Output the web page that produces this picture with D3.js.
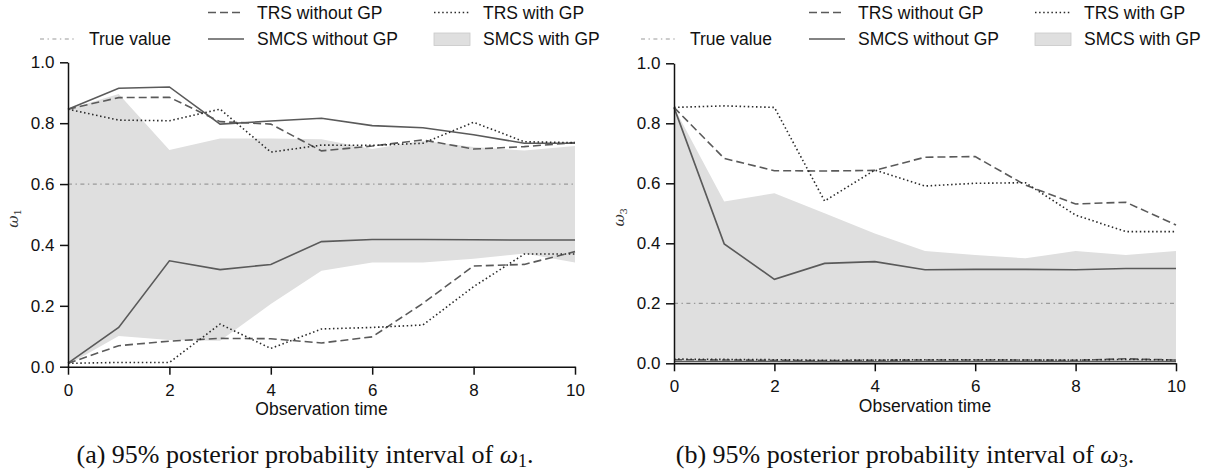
<!DOCTYPE html>
<html>
<head>
<meta charset="utf-8">
<script src="https://cdn.jsdelivr.net/npm/d3@7"></script>
<style>
  body { margin: 0; background: #fff; }
  svg text { font-family: "Liberation Sans", Arial, sans-serif; fill: #111; }
  .caption { font-family: "Liberation Serif", "Times New Roman", serif; }
</style>
</head>
<body>
<script>
const times = [0, 1, 2, 3, 4, 5, 6, 7, 8, 9, 10];
const xTicks = [0, 2, 4, 6, 8, 10];
const yTicks = [0, 0.2, 0.4, 0.6, 0.8, 1.0];

// panel (a): omega_1
const trueW1 = 0.6;
const smcsGpLowW1 = [0.006, 0.101, 0.088, 0.085, 0.206, 0.315, 0.342, 0.342, 0.355, 0.372, 0.342];
const smcsGpHighW1 = [0.846, 0.896, 0.712, 0.750, 0.750, 0.747, 0.715, 0.742, 0.722, 0.710, 0.725];
const smcsLowW1 = [0.012, 0.129, 0.348, 0.319, 0.336, 0.411, 0.418, 0.418, 0.417, 0.416, 0.416];
const smcsHighW1 = [0.846, 0.915, 0.919, 0.797, 0.807, 0.816, 0.792, 0.785, 0.762, 0.734, 0.734];
const trsLowW1 = [0.011, 0.069, 0.084, 0.093, 0.092, 0.078, 0.098, 0.208, 0.331, 0.336, 0.378];
const trsHighW1 = [0.846, 0.884, 0.885, 0.805, 0.797, 0.709, 0.725, 0.745, 0.715, 0.723, 0.736];
const trsGpLowW1 = [0.011, 0.014, 0.014, 0.140, 0.060, 0.124, 0.129, 0.137, 0.263, 0.370, 0.370];
const trsGpHighW1 = [0.846, 0.810, 0.808, 0.846, 0.705, 0.728, 0.727, 0.734, 0.803, 0.739, 0.736];

// panel (b): omega_3
const trueW3 = 0.2;
const smcsGpLowW3 = [0.003, 0.003, 0.003, 0.003, 0.003, 0.003, 0.003, 0.003, 0.003, 0.003, 0.003];
const smcsGpHighW3 = [0.853, 0.539, 0.567, 0.500, 0.433, 0.374, 0.361, 0.350, 0.374, 0.361, 0.374];
const smcsLowW3 = [0.006, 0.006, 0.006, 0.005, 0.005, 0.006, 0.006, 0.006, 0.006, 0.006, 0.006];
const smcsHighW3 = [0.853, 0.398, 0.280, 0.333, 0.339, 0.312, 0.313, 0.313, 0.312, 0.316, 0.316];
const trsLowW3 = [0.012, 0.011, 0.010, 0.009, 0.010, 0.011, 0.011, 0.011, 0.010, 0.015, 0.011];
const trsHighW3 = [0.853, 0.683, 0.642, 0.641, 0.643, 0.687, 0.689, 0.594, 0.531, 0.537, 0.461];
const trsGpLowW3 = [0.014, 0.013, 0.012, 0.010, 0.011, 0.012, 0.012, 0.011, 0.011, 0.013, 0.011];
const trsGpHighW3 = [0.853, 0.858, 0.853, 0.541, 0.644, 0.591, 0.600, 0.602, 0.494, 0.439, 0.439];

const legendLabels = ["TRS without GP", "TRS with GP", "True value", "SMCS without GP", "SMCS with GP"];
const xLabel = "Observation time";

const w = 1215;
const h = 476;

const styles = {
  trs: { stroke: "#5a5a5a", width: 1.6, dash: "8,4" },
  trsGp: { stroke: "#2a2a2a", width: 1.6, dash: "1.5,2.6" },
  smcs: { stroke: "#5a5a5a", width: 1.6, dash: null },
  truth: { stroke: "#9a9a9a", width: 1.2, dash: "4,3.5,1.4,3.5" },
  band: "#dfdfdf",
};

const svg = d3.select("body").append("svg").attr("width", w).attr("height", h);

const panels = [
  {
    left: 68, right: 575, top: 62.3, bottom: 366.7, dx: 0,
    sub: "1", caption: "(a) 95% posterior probability interval of ", capX: 305,
    truth: trueW1,
    band: [smcsGpLowW1, smcsGpHighW1],
    lines: [
      [smcsLowW1, "smcs"], [smcsHighW1, "smcs"],
      [trsLowW1, "trs"], [trsHighW1, "trs"],
      [trsGpLowW1, "trsGp"], [trsGpHighW1, "trsGp"],
    ],
  },
  {
    left: 674, right: 1176, top: 63.3, bottom: 363.3, dx: 601,
    sub: "3", caption: "(b) 95% posterior probability interval of ", capX: 905,
    truth: trueW3,
    band: [smcsGpLowW3, smcsGpHighW3],
    lines: [
      [smcsLowW3, "smcs"], [smcsHighW3, "smcs"],
      [trsLowW3, "trs"], [trsHighW3, "trs"],
      [trsGpLowW3, "trsGp"], [trsGpHighW3, "trsGp"],
    ],
  },
];

function applyStyle(sel, s) {
  sel.attr("fill", "none")
    .attr("stroke", s.stroke)
    .attr("stroke-width", s.width);
  if (s.dash) sel.attr("stroke-dasharray", s.dash);
  return sel;
}

panels.forEach((p) => {
  const x = d3.scaleLinear().domain([0, 10]).range([p.left, p.right]);
  const y = d3.scaleLinear().domain([0, 1]).range([p.bottom, p.top]);
  const g = svg.append("g");

  // SMCS with GP band
  const area = d3.area()
    .x((d, i) => x(times[i]))
    .y0((d, i) => y(p.band[0][i]))
    .y1((d, i) => y(p.band[1][i]));
  g.append("path").datum(times).attr("d", area).attr("fill", styles.band);

  // true value
  applyStyle(g.append("line"), styles.truth)
    .attr("x1", x(0)).attr("x2", x(10))
    .attr("y1", y(p.truth)).attr("y2", y(p.truth));

  const line = (vals) => d3.line().x((d, i) => x(times[i])).y((d, i) => y(vals[i]))(times);
  p.lines.forEach(([vals, key]) => {
    applyStyle(g.append("path").attr("d", line(vals)), styles[key]);
  });

  // axes
  const yAxis = d3.axisLeft(y).tickValues(yTicks).tickFormat(d3.format(".1f"))
    .tickSize(8).tickSizeOuter(0).tickPadding(5.5);
  const xAxis = d3.axisBottom(x).tickValues(xTicks).tickFormat(d3.format("d"))
    .tickSize(8).tickSizeOuter(0).tickPadding(9);

  const ya = g.append("g").attr("transform", `translate(${p.left},0)`).call(yAxis);
  const xa = g.append("g").attr("transform", `translate(0,${p.bottom})`).call(xAxis);
  [ya, xa].forEach((a) => {
    a.selectAll("path, line").attr("stroke", "#111").attr("stroke-width", 1.5);
    a.selectAll("text").style("font-size", "17px").attr("fill", "#111");
  });

  g.append("text")
    .attr("x", (p.left + p.right) / 2).attr("y", p.bottom + 48.5)
    .attr("text-anchor", "middle").style("font-size", "17.5px")
    .text(xLabel);

  // y label: omega with subscript
  const yl = g.append("text")
    .attr("transform", `translate(${p.left - 50},${(p.top + p.bottom) / 2 + 4}) rotate(-90)`)
    .attr("text-anchor", "middle")
    .style("font-family", "'DejaVu Serif', serif")
    .style("font-size", "15px");
  yl.append("tspan").style("font-style", "italic").attr("fill", "#333").text("ω");
  yl.append("tspan").attr("dy", 3).style("font-size", "10px").attr("fill", "#333").text(p.sub);

  // legend
  const cols = [40, 208, 434].map((c) => c + p.dx);
  const rows = [12.5, 39];
  const items = [
    [cols[1], rows[0], "trs", legendLabels[0]],
    [cols[2], rows[0], "trsGp", legendLabels[1]],
    [cols[0], rows[1], "truth", legendLabels[2]],
    [cols[1], rows[1], "smcs", legendLabels[3]],
    [cols[2], rows[1], "band", legendLabels[4]],
  ];
  items.forEach(([lx, ly, key, label]) => {
    if (key === "band") {
      g.append("rect").attr("x", lx).attr("y", ly - 6).attr("width", 36).attr("height", 12.5)
        .attr("fill", styles.band).attr("stroke", "#c8c8c8").attr("stroke-width", 0.8);
    } else {
      applyStyle(g.append("line"), styles[key])
        .attr("x1", lx).attr("x2", lx + 36).attr("y1", ly).attr("y2", ly);
    }
    g.append("text").attr("x", lx + 49).attr("y", ly + 6)
      .style("font-size", "17.5px").text(label);
  });

  // caption
  const cap = g.append("text").attr("class", "caption")
    .attr("x", p.capX).attr("y", 463).attr("text-anchor", "middle")
    .style("font-size", "26px");
  cap.append("tspan").text(p.caption);
  cap.append("tspan").style("font-style", "italic").text("ω");
  cap.append("tspan").attr("dy", 4).style("font-size", "18px").text(p.sub);
  cap.append("tspan").attr("dy", -4).text(".");
});
</script>
</body>
</html>
